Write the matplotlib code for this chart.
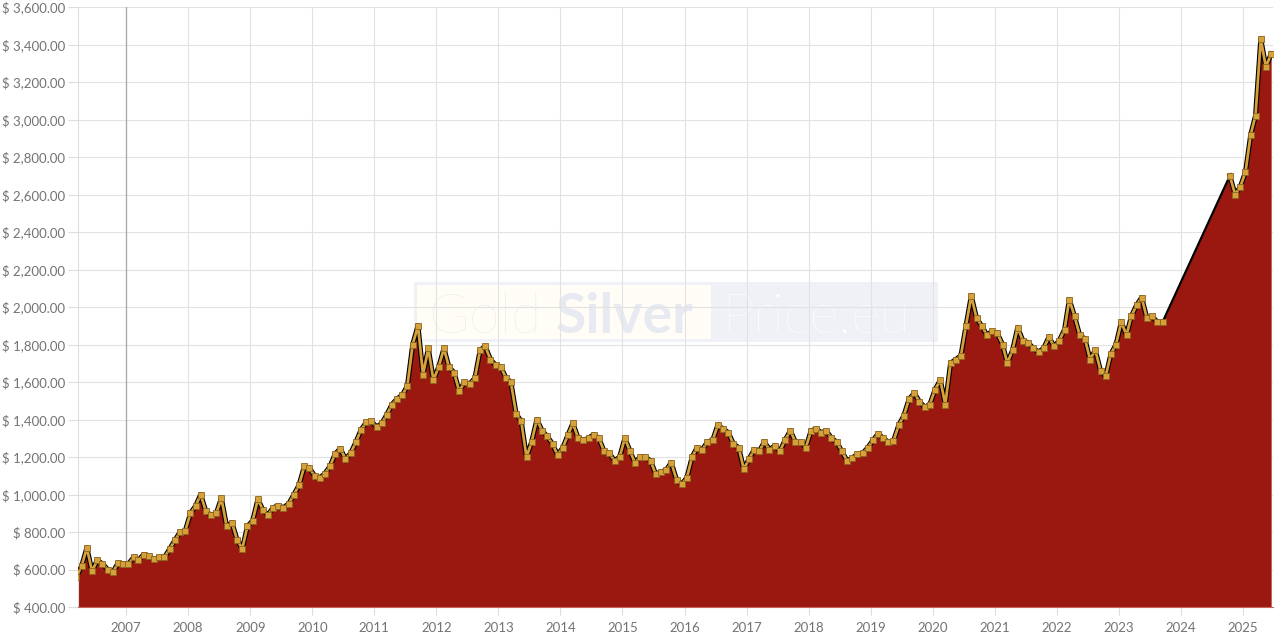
import matplotlib
matplotlib.use("Agg")
import matplotlib.pyplot as plt
import pandas as pd
from matplotlib.patches import Rectangle
from matplotlib.ticker import FuncFormatter

# Monthly gold price (USD/oz), mid-month values
start_1 = "2006-03-01"
prices_1 = [
    # 2006 (Mar-Dec)
    560, 620, 715, 590, 650, 630, 600, 585, 635, 630,
    # 2007
    630, 665, 650, 680, 670, 655, 665, 665, 710, 755, 800, 805,
    # 2008
    900, 940, 1000, 910, 890, 900, 980, 830, 850, 760, 710, 830,
    # 2009
    860, 975, 920, 890, 930, 940, 930, 950, 1000, 1050, 1150, 1140,
    # 2010
    1100, 1090, 1110, 1150, 1215, 1245, 1190, 1220, 1280, 1345, 1385, 1390,
    # 2011
    1360, 1380, 1425, 1480, 1510, 1530, 1580, 1800, 1900, 1640, 1780, 1610,
    # 2012
    1680, 1780, 1680, 1650, 1550, 1600, 1590, 1620, 1770, 1790, 1720, 1690,
    # 2013
    1680, 1620, 1600, 1430, 1390, 1200, 1280, 1400, 1340, 1310, 1270, 1210,
    # 2014
    1250, 1320, 1380, 1300, 1290, 1300, 1320, 1300, 1230, 1220, 1180, 1200,
    # 2015
    1300, 1230, 1170, 1200, 1200, 1180, 1110, 1120, 1130, 1170, 1080, 1055,
    # 2016
    1090, 1200, 1250, 1240, 1280, 1290, 1370, 1350, 1330, 1270, 1250, 1135,
    # 2017
    1190, 1240, 1230, 1280, 1240, 1260, 1230, 1290, 1340, 1280, 1280, 1250,
    # 2018
    1340, 1350, 1330, 1340, 1300, 1280, 1230, 1180, 1195, 1215, 1220, 1250,
    # 2019
    1290, 1325, 1300, 1280, 1285, 1370, 1420, 1510, 1540, 1495, 1465, 1480,
    # 2020
    1560, 1610, 1480, 1700, 1720, 1740, 1900, 2060, 1940, 1900, 1850, 1870,
    # 2021
    1860, 1800, 1700, 1770, 1890, 1820, 1810, 1780, 1760, 1780, 1840, 1790,
    # 2022
    1820, 1880, 2040, 1950, 1850, 1830, 1720, 1770, 1660, 1630, 1750, 1800,
    # 2023 (Jan-Sep)
    1920, 1850, 1950, 2010, 2050, 1940, 1950, 1920, 1920,
]
start_2 = "2024-10-01"
prices_2 = [2700, 2600, 2640, 2720, 2920, 3020, 3430, 3280, 3350]

y_ticks = list(range(400, 3601, 200))
years = list(range(2007, 2026))

RED = "#9b1810"
GOLD = "#d6a13a"

dates_1 = pd.date_range(start_1, periods=len(prices_1), freq="MS") + pd.Timedelta(days=14)
dates_2 = pd.date_range(start_2, periods=len(prices_2), freq="MS") + pd.Timedelta(days=14)
dates = dates_1.append(dates_2)
prices = prices_1 + prices_2

fig = plt.figure(figsize=(12.76, 6.38), dpi=100)
ax = fig.add_axes([78 / 1276, 31 / 638, 1195 / 1276, 600 / 638])
ax.set_axisbelow(True)

# watermark box behind the data
W, H = 1276, 638
def px(x0, y0, w, h):
    return (x0 / W, 1 - (y0 + h) / H), w / W, h / H

xy, w, h = px(414, 282, 524, 60)
ax.add_patch(Rectangle(xy, w, h, transform=fig.transFigure, color="#f0f1f7", zorder=0.1, lw=0))
xy, w, h = px(417, 285, 294, 54)
ax.add_patch(Rectangle(xy, w, h, transform=fig.transFigure, color="#fffdf5", zorder=0.15, lw=0))
yb = 1 - 333 / H
ax.text(428 / W, yb, "Gold", transform=fig.transFigure, fontsize=40, family="Lato",
        fontweight="light", color="#e9ebf3", va="baseline", zorder=0.2)
ax.text(556 / W, yb, "Silver", transform=fig.transFigure, fontsize=40, family="Lato",
        fontweight="bold", color="#e8eaf2", va="baseline", zorder=0.2)
ax.text(723 / W, yb, "Price.eu", transform=fig.transFigure, fontsize=40, family="Lato",
        fontweight="light", color="white", va="baseline", zorder=0.2)

ax.fill_between(dates, prices, 400, color=RED, lw=0, zorder=2)
# thin black line bridges the missing period
ax.plot(dates, prices, color="black", lw=1.6, zorder=3)
for d, p in [(dates_1, prices_1), (dates_2, prices_2)]:
    ax.plot(d, p, color="black", lw=3.6, zorder=3)
    ax.plot(d, p, color=GOLD, lw=2.0, zorder=4)
ax.plot(dates, prices, ls="none", marker="s", ms=3.8, mfc=GOLD, mec="#8a6520", mew=0.6, zorder=5)

ax.set_ylim(400, 3600)
ax.set_xlim(pd.Timestamp("2006-03-24"), pd.Timestamp("2025-06-26"))
ax.set_yticks(y_ticks)
ax.yaxis.set_major_formatter(FuncFormatter(lambda v, _: f"$ {v:,.2f}"))
ax.set_xticks([pd.Timestamp(f"{y}-01-01") for y in years])
ax.set_xticklabels([str(y) for y in years])

ax.grid(True, color="#e2e2e2", lw=0.8)
ax.axvline(pd.Timestamp("2007-01-01"), color="#a8a8a8", lw=0.9, zorder=0.6)

for s in ["top", "right"]:
    ax.spines[s].set_visible(False)
ax.spines["left"].set_color("#dddddd")
ax.spines["bottom"].set_color("#c8645c")
ax.spines["bottom"].set_zorder(6)

ax.tick_params(axis="y", length=7, color="#dddddd", labelsize=9.5, labelcolor="#737373", pad=2)
ax.tick_params(axis="x", length=6, color="#dddddd", labelsize=9.5, labelcolor="#737373", pad=5)
for lab in ax.get_xticklabels() + ax.get_yticklabels():
    lab.set_family("Lato")

fig.savefig("out.png", dpi=100)
